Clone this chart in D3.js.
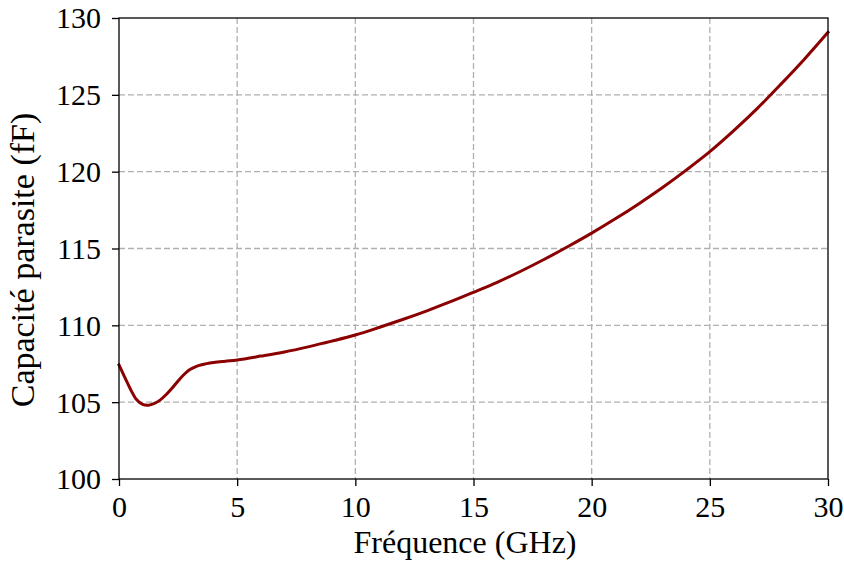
<!DOCTYPE html>
<html>
<head>
<meta charset="utf-8">
<script src="https://cdn.jsdelivr.net/npm/d3@7"></script>
<style>
  body { margin: 0; background: #fff; }
  svg { display: block; }
</style>
</head>
<body>
<svg id="chart" width="844" height="570"></svg>
<script>
// Data
const frequencyGHz = [0, 0.25, 0.5, 0.75, 1.0, 1.25, 1.5, 1.75, 2.0, 2.25, 2.5, 2.75, 3.0, 3.25, 3.5, 4.0, 4.5, 5, 6, 7, 8, 9, 10, 11, 12, 13, 14, 15, 16, 17, 18, 19, 20, 21, 22, 23, 24, 25, 26, 27, 28, 29, 30];
const capacitanceFF = [107.42, 106.6, 105.8, 105.15, 104.85, 104.8, 104.92, 105.15, 105.5, 105.92, 106.38, 106.8, 107.12, 107.32, 107.44, 107.58, 107.67, 107.75, 108.0, 108.27, 108.6, 108.97, 109.37, 109.86, 110.38, 110.93, 111.52, 112.15, 112.8, 113.52, 114.3, 115.13, 116.0, 116.93, 117.92, 118.97, 120.1, 121.3, 122.65, 124.1, 125.68, 127.32, 129.07];
const xTicks = [0, 5, 10, 15, 20, 25, 30];
const yTicks = [100, 105, 110, 115, 120, 125, 130];
const xLabel = "Fréquence (GHz)";
const yLabel = "Capacité parasite (fF)";

const FONT = '"Liberation Serif"';
const svg = d3.select("#chart");
const mLeft = 119, mRight = 828, mTop = 18, mBottom = 479;

const x = d3.scaleLinear().domain([0, 30]).range([mLeft, mRight]);
const y = d3.scaleLinear().domain([100, 130]).range([mBottom, mTop]);

// grid
const grid = svg.append("g");
grid.selectAll("line.vx").data(xTicks.slice(1, -1)).enter().append("line")
  .attr("x1", d => x(d)).attr("x2", d => x(d)).attr("y1", mTop).attr("y2", mBottom)
  .attr("stroke", "#b0b0b0").attr("stroke-width", 1.3).attr("stroke-dasharray", "6,3");
grid.selectAll("line.hy").data(yTicks.slice(1, -1)).enter().append("line")
  .attr("y1", d => y(d)).attr("y2", d => y(d)).attr("x1", mLeft).attr("x2", mRight)
  .attr("stroke", "#b0b0b0").attr("stroke-width", 1.3).attr("stroke-dasharray", "6,3");

// line
const data = frequencyGHz.map((f, i) => [f, capacitanceFF[i]]);
svg.append("path").datum(data)
  .attr("fill", "none").attr("stroke", "#8b0000").attr("stroke-width", 3)
  .attr("stroke-linejoin", "round").attr("stroke-linecap", "square")
  .attr("d", d3.line().x(d => x(d[0])).y(d => y(d[1])).curve(d3.curveCatmullRom.alpha(0.5)));

// axes
const xAxis = svg.append("g").attr("transform", `translate(0,${mBottom})`)
  .call(d3.axisBottom(x).tickValues(xTicks).tickSize(7).tickPadding(10).tickFormat(d3.format("d")));
const yAxis = svg.append("g").attr("transform", `translate(${mLeft},0)`)
  .call(d3.axisLeft(y).tickValues(yTicks).tickSize(7).tickPadding(11).tickFormat(d3.format("d")));
[xAxis, yAxis].forEach(a => {
  a.attr("font-size", 30);
  a.select(".domain").remove();
  a.selectAll(".tick line").attr("stroke", "#000").attr("stroke-width", 1.3);
  a.selectAll(".tick text").attr("fill", "#000").style("font-family", FONT);
});
yAxis.selectAll(".tick text").attr("dy", "0.33em");

// frame
svg.append("rect").attr("x", mLeft).attr("y", mTop).attr("width", mRight - mLeft).attr("height", mBottom - mTop)
  .attr("fill", "none").attr("stroke", "#000").attr("stroke-width", 1.3);

// labels
svg.append("text").attr("x", 465).attr("y", 553).attr("text-anchor", "middle")
  .style("font-family", FONT).attr("font-size", 32).text(xLabel);
svg.append("text").attr("transform", "translate(34,260) rotate(-90)").attr("text-anchor", "middle")
  .style("font-family", FONT).attr("font-size", 34).text(yLabel);
</script>
</body>
</html>
